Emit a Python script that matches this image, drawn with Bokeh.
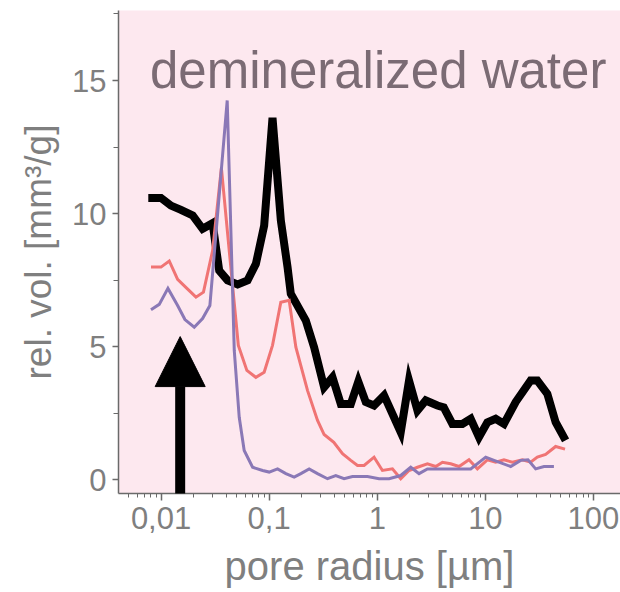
from bokeh.plotting import figure
from bokeh.models import FixedTicker, Label, Arrow, NormalHead, Range1d
from bokeh.embed import file_html
from bokeh.resources import INLINE

# ---- data (pore radius in µm, relative volume in mm³/g) ----
black_x = [0.00762, 0.00998, 0.01235, 0.01528, 0.0196, 0.02422, 0.02997, 0.03451, 0.04128,
           0.05108, 0.06316, 0.07537, 0.0899, 0.1074, 0.1283, 0.1479, 0.1585, 0.2183, 0.2606,
           0.3224, 0.3854, 0.46, 0.5692, 0.6674, 0.783, 0.9333, 1.156, 1.648, 1.967, 2.354,
           2.808, 3.599, 4.12, 4.955, 6.126, 7.311, 8.725, 10.43, 12.45, 14.86, 19.06, 26.22,
           30.25, 37.43, 44.67, 55.2]
black_y = [10.59, 10.59, 10.30, 10.14, 9.93, 9.43, 9.64, 7.86, 7.49,
           7.34, 7.49, 8.11, 9.55, 13.6, 9.74, 7.99, 6.99, 5.98, 4.98,
           3.48, 3.85, 2.85, 2.85, 3.69, 2.92, 2.79, 3.17, 1.79, 3.73, 2.60,
           2.98, 2.79, 2.72, 2.10, 2.10, 2.29, 1.60, 2.16, 2.29, 2.10, 2.92, 3.73,
           3.73, 3.23, 2.16, 1.48]

red_x = [0.00807, 0.00998, 0.01191, 0.01423, 0.01734, 0.02103, 0.02467, 0.02999, 0.03615,
         0.04377, 0.05188, 0.06221, 0.0753, 0.08991, 0.1074, 0.1282, 0.1531, 0.1766, 0.2266,
         0.2802, 0.3224, 0.3963, 0.4769, 0.5688, 0.6561, 0.7553, 0.9341, 1.116, 1.381, 1.648,
         1.967, 2.354, 2.912, 3.474, 4.006, 4.778, 5.705, 7.051, 8.436, 10.43, 12.45, 14.86,
         17.77, 21.99, 26.22, 30.25, 36.09, 44.66, 54.55]
red_y = [7.99, 7.99, 8.22, 7.53, 7.19, 6.86, 7.05, 8.61, 11.72,
         8.16, 5.05, 4.11, 3.85, 4.04, 5.05, 6.67, 6.74, 4.98, 3.35,
         2.23, 1.70, 1.41, 0.98, 0.73, 0.54, 0.54, 0.85, 0.35, 0.41, 0.04,
         0.35, 0.47, 0.60, 0.50, 0.66, 0.60, 0.50, 0.75, 0.41, 0.75, 0.66, 0.75,
         0.66, 0.75, 0.66, 0.85, 0.95, 1.25, 1.15]

purple_x = [0.00807, 0.00962, 0.01158, 0.01423, 0.01663, 0.02028, 0.02421, 0.0283, 0.04092,
            0.04755, 0.05286, 0.05876, 0.07027, 0.08696, 0.1, 0.1196, 0.1427, 0.1703, 0.1964,
            0.2344, 0.28, 0.3465, 0.4132, 0.4933, 0.5901, 0.8117, 1.039, 1.286, 1.648, 2.04,
            2.434, 2.912, 4.613, 7.317, 10.07, 12.03, 17.14, 21.2, 24.78, 29.19, 34.86, 43.06]
purple_y = [6.39, 6.59, 7.19, 6.55, 6.02, 5.73, 6.06, 6.55, 14.25,
            4.86, 2.35, 1.10, 0.47, 0.35, 0.29, 0.41, 0.23, 0.10, 0.23,
            0.41, 0.23, 0.04, 0.16, 0.04, 0.12, 0.12, 0.04, 0.04, 0.16, 0.47,
            0.23, 0.41, 0.41, 0.41, 0.85, 0.73, 0.50, 0.73, 0.75, 0.41, 0.50, 0.50]

x_ticks = [0.01, 0.1, 1, 10, 100]
x_tick_labels = ["0,01", "0,1", "1", "10", "100"]
y_ticks = [0, 5, 10, 15]
y_minor_ticks = [2.5, 7.5, 12.5, 17.5]

title_text = "demineralized water"
x_label = "pore radius [µm]"
y_label = "rel. vol. [mm³/g]"
arrow_x = 0.01503

FONT = "Liberation Sans"
GREY = "#7f7f7f"
AXIS = "#6a6a6a"

p = figure(width=620, height=592, x_axis_type="log",
           x_range=Range1d(0.00404, 177.8), y_range=Range1d(-0.515, 17.63),
           output_backend="svg", toolbar_location=None, title=None,
           min_border_left=118, min_border_right=0, min_border_top=10, min_border_bottom=99)

p.background_fill_color = "#fde8ef"
p.border_fill_color = "white"
p.outline_line_color = None
p.xgrid.visible = False
p.ygrid.visible = False

minor_x = [m * 10.0 ** e for e in range(-3, 3) for m in range(2, 10)]
p.xaxis.ticker = FixedTicker(ticks=x_ticks, minor_ticks=minor_x)
p.xaxis.major_label_overrides = {t: s for t, s in zip(x_ticks, x_tick_labels)}
p.yaxis.ticker = FixedTicker(ticks=y_ticks, minor_ticks=y_minor_ticks)

for ax in (p.xaxis[0], p.yaxis[0]):
    ax.axis_line_color = AXIS
    ax.axis_line_width = 1.5
    ax.major_tick_line_color = AXIS
    ax.minor_tick_line_color = AXIS
    ax.major_tick_line_width = 1.5
    ax.major_tick_in = 0
    ax.minor_tick_in = 0
    ax.major_label_text_color = GREY
    ax.major_label_text_font = FONT
    ax.major_label_text_font_size = "31px"
    ax.axis_label_text_color = GREY
    ax.axis_label_text_font = FONT
    ax.axis_label_text_font_style = "normal"

p.xaxis.axis_label_text_font_size = "40px"
p.yaxis.axis_label_text_font_size = "37px"
p.xaxis.major_tick_out = 7
p.xaxis.minor_tick_out = 4
p.yaxis.major_tick_out = 6
p.yaxis.minor_tick_out = 5
p.xaxis.major_label_standoff = 6
p.yaxis.major_label_standoff = 6
p.xaxis.axis_label = x_label
p.yaxis.axis_label = y_label
p.xaxis.axis_label_standoff = 12
p.yaxis.axis_label_standoff = 10

p.line(black_x, black_y, line_color="black", line_width=8, line_join="miter")
p.line(red_x, red_y, line_color="#f07474", line_width=3, line_join="miter")
p.line(purple_x, purple_y, line_color="#8a78b6", line_width=3, line_join="miter")

p.add_layout(Arrow(end=NormalHead(size=50, fill_color="black", line_color="black"),
                   x_start=arrow_x, y_start=-0.7, x_end=arrow_x, y_end=5.38,
                   line_color="black", line_width=10))

p.add_layout(Label(x=0.0079, y=15.38, text=title_text, text_font=FONT,
                   text_font_size="51px", text_color="#7b6b74", text_baseline="alphabetic"))

open("out.html", "w").write(file_html(p, INLINE))
